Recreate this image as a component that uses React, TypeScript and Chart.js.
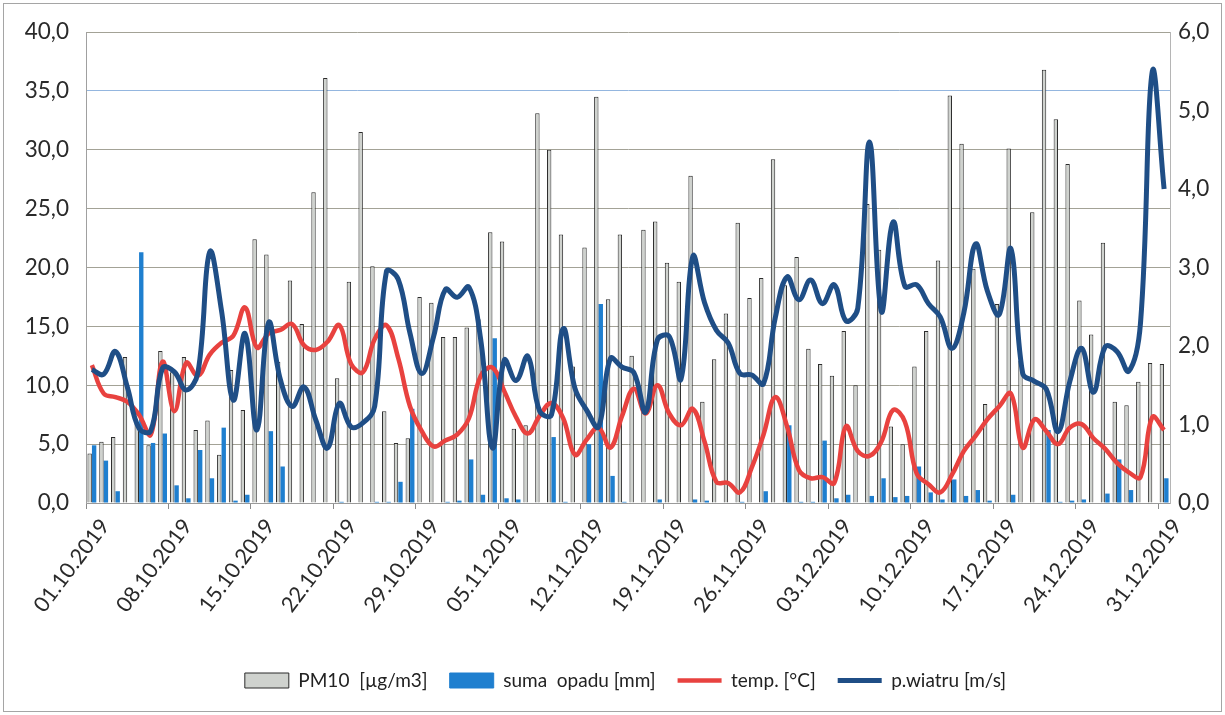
import React, { useEffect, useRef } from 'react';
import { Chart, registerables } from 'chart.js';

Chart.register(...registerables);

const DATES: string[] = [
  '01.10.2019','02.10.2019','03.10.2019','04.10.2019','05.10.2019','06.10.2019','07.10.2019','08.10.2019','09.10.2019','10.10.2019',
  '11.10.2019','12.10.2019','13.10.2019','14.10.2019','15.10.2019','16.10.2019','17.10.2019','18.10.2019','19.10.2019','20.10.2019',
  '21.10.2019','22.10.2019','23.10.2019','24.10.2019','25.10.2019','26.10.2019','27.10.2019','28.10.2019','29.10.2019','30.10.2019',
  '31.10.2019','01.11.2019','02.11.2019','03.11.2019','04.11.2019','05.11.2019','06.11.2019','07.11.2019','08.11.2019','09.11.2019',
  '10.11.2019','11.11.2019','12.11.2019','13.11.2019','14.11.2019','15.11.2019','16.11.2019','17.11.2019','18.11.2019','19.11.2019',
  '20.11.2019','21.11.2019','22.11.2019','23.11.2019','24.11.2019','25.11.2019','26.11.2019','27.11.2019','28.11.2019','29.11.2019',
  '30.11.2019','01.12.2019','02.12.2019','03.12.2019','04.12.2019','05.12.2019','06.12.2019','07.12.2019','08.12.2019','09.12.2019',
  '10.12.2019','11.12.2019','12.12.2019','13.12.2019','14.12.2019','15.12.2019','16.12.2019','17.12.2019','18.12.2019','19.12.2019',
  '20.12.2019','21.12.2019','22.12.2019','23.12.2019','24.12.2019','25.12.2019','26.12.2019','27.12.2019','28.12.2019','29.12.2019',
  '30.12.2019','31.12.2019',
];

// PM10 [µg/m3] (left axis)
const PM10: number[] = [
  4.2, 5.2, 5.6, 12.4, 6.7, 4.9, 12.9, 11.1, 12.4, 6.2,
  7.0, 4.1, 11.3, 7.9, 22.4, 21.1, 12.0, 18.9, 15.2, 26.4,
  36.1, 10.6, 18.8, 31.5, 20.1, 7.8, 5.1, 5.5, 17.5, 17.0,
  14.1, 14.1, 14.9, 15.6, 23.0, 22.2, 6.3, 6.6, 33.1, 30.0,
  22.8, 11.6, 21.7, 34.5, 17.3, 22.8, 12.5, 23.2, 23.9, 20.4,
  18.8, 27.8, 8.6, 12.2, 16.1, 23.8, 17.4, 19.1, 29.2, 18.5,
  20.9, 13.1, 11.8, 10.8, 14.6, 10.0, 25.4, 21.5, 6.5, 5.0,
  11.6, 14.6, 20.6, 34.6, 30.5, 19.9, 8.4, 16.9, 30.1, 12.1,
  24.7, 36.8, 32.6, 28.8, 17.2, 14.3, 22.1, 8.6, 8.3, 10.3,
  11.9, 11.8,
];

// suma opadu [mm] (left axis)
const OPAD: number[] = [
  4.9, 3.6, 1.0, 0, 21.3, 5.1, 5.9, 1.5, 0.4, 4.5,
  2.1, 6.4, 0.2, 0.7, 0, 6.1, 3.1, 0, 0, 0,
  0, 0.1, 0, 0, 0.1, 0.1, 1.8, 8.0, 0, 0,
  0.1, 0.2, 3.7, 0.7, 14.0, 0.4, 0.3, 0, 0, 5.6,
  0.1, 0, 5.0, 16.9, 2.3, 0.1, 0, 0, 0.3, 0,
  0, 0.3, 0.2, 0, 0, 0.1, 0, 1.0, 0, 6.6,
  0.1, 0.1, 5.3, 0.4, 0.7, 0, 0.6, 2.1, 0.5, 0.6,
  3.1, 0.9, 0.3, 2.0, 0.6, 1.1, 0.2, 0, 0.7, 0,
  0, 6.2, 0.1, 0.2, 0.3, 0, 0.8, 3.7, 1.1, 0,
  0, 2.1,
];

// temp. [°C] (left axis)
const TEMP: number[] = [
  11.7, 9.3, 9.0, 8.6, 7.5, 5.8, 12.0, 7.8, 11.9, 10.8,
  12.6, 13.6, 14.2, 16.6, 13.2, 14.4, 14.7, 15.2, 13.4, 13.0,
  13.7, 15.1, 11.8, 11.1, 13.9, 15.1, 12.3, 8.2, 6.1, 4.8,
  5.3, 5.8, 7.2, 10.8, 11.5, 9.5, 7.3, 5.9, 7.4, 8.5,
  7.2, 4.1, 5.4, 6.4, 4.7, 7.4, 9.7, 7.6, 10.0, 7.6,
  6.6, 8.0, 5.2, 1.8, 1.7, 0.9, 3.0, 5.8, 9.0, 6.5,
  2.8, 2.1, 2.2, 1.7, 6.5, 4.4, 4.0, 5.2, 7.9, 6.9,
  2.5, 1.6, 0.9, 2.4, 4.4, 5.7, 7.1, 8.2, 9.3, 4.7,
  7.1, 6.1, 5.0, 6.4, 6.7, 5.5, 4.6, 3.4, 2.6, 2.2,
  7.3, 6.2,
];

// p.wiatru [m/s] (right axis)
const WIATR: number[] = [
  1.70, 1.64, 1.93, 1.48, 0.95, 0.92, 1.72, 1.67, 1.44, 1.66,
  3.20, 2.45, 1.31, 2.16, 0.93, 2.30, 1.57, 1.23, 1.48, 1.06,
  0.70, 1.27, 0.97, 1.02, 1.23, 2.95, 2.85, 2.16, 1.65, 2.12,
  2.72, 2.62, 2.75, 2.08, 0.70, 1.82, 1.56, 1.87, 1.17, 1.12,
  2.22, 1.46, 1.18, 0.97, 1.84, 1.73, 1.66, 1.16, 2.08, 2.12,
  1.58, 3.14, 2.55, 2.20, 2.04, 1.65, 1.63, 1.52, 2.36, 2.88,
  2.59, 2.84, 2.54, 2.78, 2.32, 2.48, 4.60, 2.44, 3.58, 2.76,
  2.78, 2.54, 2.37, 1.97, 2.42, 3.30, 2.70, 2.40, 3.24, 1.65,
  1.55, 1.45, 0.91, 1.55, 1.97, 1.41, 1.99, 1.93, 1.68, 2.30,
  5.50, 4.00,
];

const LEGEND_LABELS: string[] = ['PM10  [µg/m3]', 'suma  opadu [mm]', 'temp. [°C]', 'p.wiatru [m/s]'];

const FONT = 'Lato, "Noto Sans", "DejaVu Sans", sans-serif';
const C_PM = '#cfd2ce';
const C_PM_BORDER = '#2b2b2b';
const C_OPAD = '#1f7fcf';
const C_TEMP = '#e8423f';
const C_WIND = '#1f4e86';
const C_GRID = '#a3a296';

const fmt = (v: number | string) => Number(v).toFixed(1).replace('.', ',');

// shifts the legend block a little to the right, as in the reference
const legendShift = {
  id: 'legendShift',
  afterLayout(chart: any) {
    if (chart.legend) chart.legend.left += 26;
  },
};

export default function App() {
  const ref = useRef<HTMLCanvasElement>(null);

  useEffect(() => {
    if (!ref.current) return;
    const chart = new Chart(ref.current, {
      type: 'bar',
      data: {
        labels: DATES,
        datasets: [
          {
            type: 'bar',
            label: LEGEND_LABELS[0],
            data: PM10,
            backgroundColor: C_PM,
            borderColor: C_PM_BORDER,
            borderWidth: 1,
            yAxisID: 'y',
            order: 2,
            categoryPercentage: 0.76,
            barPercentage: 0.98,
          },
          {
            type: 'bar',
            label: LEGEND_LABELS[1],
            data: OPAD,
            backgroundColor: C_OPAD,
            borderWidth: 0,
            yAxisID: 'y',
            order: 3,
            categoryPercentage: 0.76,
            barPercentage: 0.98,
          },
          {
            type: 'line',
            label: LEGEND_LABELS[2],
            data: TEMP,
            borderColor: C_TEMP,
            backgroundColor: C_TEMP,
            borderWidth: 4.5,
            pointRadius: 0,
            tension: 0.4,
            yAxisID: 'y',
            order: 1,
          },
          {
            type: 'line',
            label: LEGEND_LABELS[3],
            data: WIATR,
            borderColor: C_WIND,
            backgroundColor: C_WIND,
            borderWidth: 5,
            pointRadius: 0,
            tension: 0.4,
            yAxisID: 'y1',
            order: 0,
          },
        ],
      } as any,
      options: {
        animation: false,
        responsive: false,
        layout: { padding: { left: 8, right: 8, top: 32, bottom: 15 } },
        scales: {
          x: {
            offset: true,
            grid: {
              offset: true,
              drawOnChartArea: false,
              tickLength: 6,
              color: (ctx: any) => (ctx.index % 7 === 0 ? '#8a8a8a' : 'rgba(0,0,0,0)'),
            },
            border: { display: true, color: '#9a9a9a' },
            ticks: {
              autoSkip: false,
              maxRotation: 53,
              minRotation: 53,
              padding: 5,
              labelOffset: 13,
              color: '#2a2a2a',
              font: { family: FONT, size: 21.5 },
              callback: (_v: any, i: number) => (i % 7 === 0 ? DATES[i] : ''),
            },
            afterFit: (s: any) => {
              s.height = 146;
            },
          },
          y: {
            position: 'left',
            min: 0,
            max: 40,
            ticks: {
              stepSize: 5,
              padding: 17,
              color: '#2a2a2a',
              font: { family: FONT, size: 22.5 },
              callback: (v: any) => fmt(v),
            },
            grid: {
              drawTicks: false,
              color: (ctx: any) => (ctx.tick && ctx.tick.value === 35 ? '#94b6df' : C_GRID),
              lineWidth: 1,
            },
            border: { display: true, color: '#a0a0a0' },
            afterFit: (s: any) => {
              s.width = 78;
            },
          },
          y1: {
            position: 'right',
            min: 0,
            max: 6,
            ticks: {
              stepSize: 1,
              padding: 8,
              color: '#2a2a2a',
              font: { family: FONT, size: 22.5 },
              callback: (v: any) => fmt(v),
            },
            grid: { drawOnChartArea: false, drawTicks: false },
            border: { display: true, color: '#b5b5b5', dash: [2, 2] },
            afterFit: (s: any) => {
              s.width = 47;
            },
          },
        },
        plugins: {
          tooltip: { enabled: false },
          legend: {
            position: 'bottom',
            labels: {
              usePointStyle: true,
              pointStyleWidth: 44,
              boxHeight: 15,
              padding: 22,
              color: '#222',
              font: { family: FONT, size: 19 },
              generateLabels: () => [
                { text: LEGEND_LABELS[0], fillStyle: C_PM, strokeStyle: C_PM_BORDER, lineWidth: 1, pointStyle: 'rect', datasetIndex: 0, hidden: false, fontColor: '#222' },
                { text: LEGEND_LABELS[1], fillStyle: C_OPAD, strokeStyle: C_OPAD, lineWidth: 1, pointStyle: 'rect', datasetIndex: 1, hidden: false, fontColor: '#222' },
                { text: LEGEND_LABELS[2], fillStyle: C_TEMP, strokeStyle: C_TEMP, lineWidth: 4.5, pointStyle: 'line', datasetIndex: 2, hidden: false, fontColor: '#222' },
                { text: LEGEND_LABELS[3], fillStyle: C_WIND, strokeStyle: C_WIND, lineWidth: 5, pointStyle: 'line', datasetIndex: 3, hidden: false, fontColor: '#222' },
              ] as any,
            },
          },
        },
      } as any,
      plugins: [legendShift],
    });
    return () => chart.destroy();
  }, []);

  return (
    <div style={{ position: 'fixed', left: 0, top: 0, width: 1225, height: 715, background: '#fff' }}>
      <canvas ref={ref} width={1225} height={715} style={{ display: 'block', width: 1225, height: 715 }} />
      <div
        style={{
          position: 'absolute',
          left: 3,
          top: 3,
          width: 1217,
          height: 707,
          border: '1px solid #a5a5a5',
          pointerEvents: 'none',
        }}
      />
    </div>
  );
}
